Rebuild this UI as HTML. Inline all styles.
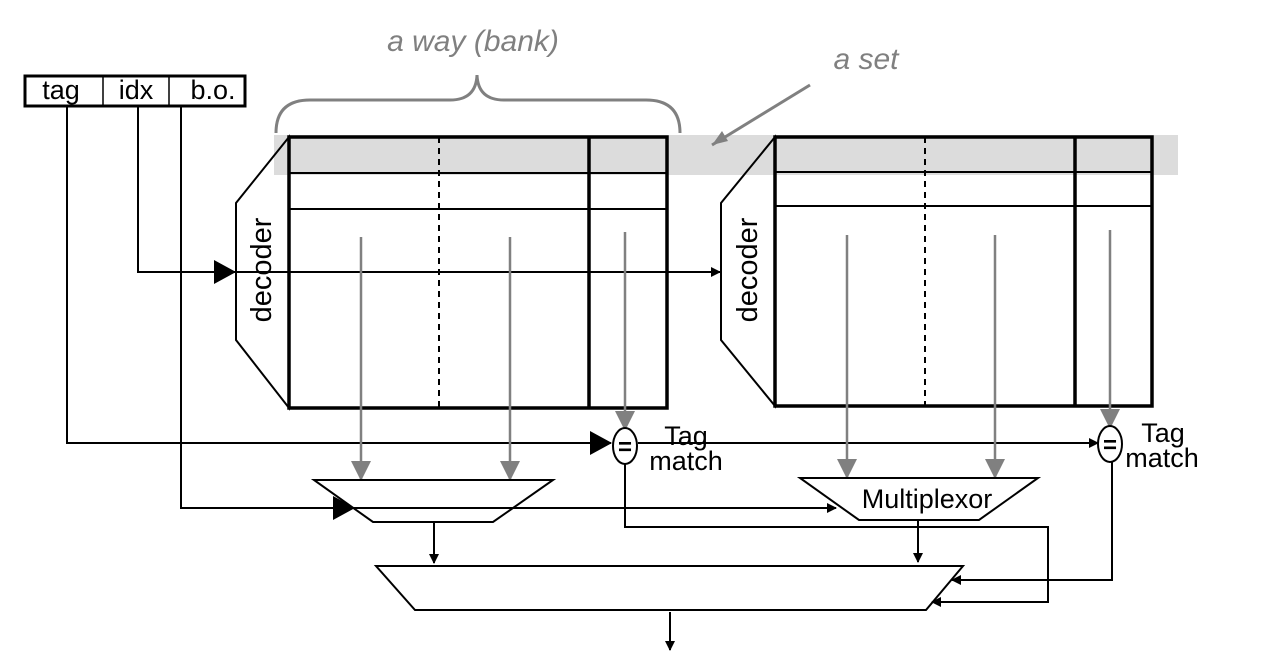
<!DOCTYPE html>
<html><head><meta charset="utf-8"><style>
html,body{margin:0;padding:0;background:#fff;}
svg{display:block;font-family:"Liberation Sans",sans-serif;}
</style></head><body>
<svg width="1263" height="660" viewBox="0 0 1263 660">
<defs>
<marker id="ab" markerWidth="10" markerHeight="10" refX="9" refY="5" orient="auto" markerUnits="userSpaceOnUse"><path d="M0,0 L10,5 L0,10 z" fill="#000"/></marker>
<marker id="ag" markerWidth="20" markerHeight="20" refX="18" refY="10" orient="auto" markerUnits="userSpaceOnUse"><path d="M0,0 L20,10 L0,20 z" fill="#808080"/></marker>
</defs>
<rect x="274" y="135" width="904" height="40" fill="#dcdcdc"/>
<text x="473" y="51" font-size="30" font-style="italic" fill="#808080" text-anchor="middle">a way (bank)</text>
<path d="M276,133 Q276,100 310,100 L450,100 Q476,100 477,75 Q478,100 504,100 L646,100 Q680,100 680,133" fill="none" stroke="#808080" stroke-width="3"/>
<text x="866" y="69" font-size="30" font-style="italic" fill="#808080" text-anchor="middle">a set</text>
<line x1="810" y1="85" x2="712" y2="145" stroke="#808080" stroke-width="3"/>
<path d="M712,145 L722,131 L728,141 z" fill="#808080"/>
<g>
<rect x="25" y="76" width="220" height="30" fill="#fff" stroke="#000" stroke-width="3"/>
<line x1="103" y1="76" x2="103" y2="106" stroke="#000" stroke-width="1.5"/>
<line x1="169" y1="76" x2="169" y2="106" stroke="#000" stroke-width="1.5"/>
<text x="61" y="99" font-size="27" text-anchor="middle">tag</text>
<text x="136" y="99" font-size="27" text-anchor="middle">idx</text>
<text x="213" y="99" font-size="27" text-anchor="middle">b.o.</text>
</g>
<g fill="none" stroke="#000" stroke-width="2">
<path d="M67,106 L67,443 L611,443"/>
<path d="M138,106 L138,272 L720,272" marker-end="url(#ab)"/>
<path d="M181,106 L181,508 L836,508" marker-end="url(#ab)"/>
<path d="M638,443 L1098,443" marker-end="url(#ab)"/>
</g>
<path d="M214,260 L236,272 L214,284 z" fill="#000"/>
<path d="M333,496 L355,508 L333,520 z" fill="#000"/>
<path d="M590,431 L612,443 L590,455 z" fill="#000"/>
<g>
<polygon points="289,137 236,203 236,340 289,408" fill="none" stroke="#000" stroke-width="2"/>
<text transform="translate(271,270) rotate(-90)" font-size="29" text-anchor="middle">decoder</text>
<rect x="289" y="137" width="378" height="271" fill="none" stroke="#000" stroke-width="3.5"/>
<line x1="289" y1="173" x2="667" y2="173" stroke="#000" stroke-width="2"/>
<line x1="289" y1="209" x2="667" y2="209" stroke="#000" stroke-width="2"/>
<line x1="589" y1="137" x2="589" y2="408" stroke="#000" stroke-width="3.5"/>
<line x1="439" y1="137" x2="439" y2="408" stroke="#000" stroke-width="2" stroke-dasharray="6,5"/>
</g>
<g>
<polygon points="775,137 721,203 721,340 775,406" fill="none" stroke="#000" stroke-width="2"/>
<text transform="translate(757,270) rotate(-90)" font-size="29" text-anchor="middle">decoder</text>
<rect x="775" y="137" width="377" height="269" fill="none" stroke="#000" stroke-width="3.5"/>
<line x1="775" y1="172" x2="1152" y2="172" stroke="#000" stroke-width="2"/>
<line x1="775" y1="206" x2="1152" y2="206" stroke="#000" stroke-width="2"/>
<line x1="1075" y1="137" x2="1075" y2="406" stroke="#000" stroke-width="3.5"/>
<line x1="925" y1="137" x2="925" y2="406" stroke="#000" stroke-width="2" stroke-dasharray="6,5"/>
</g>
<g stroke="#808080" stroke-width="2.5" fill="none">
<line x1="361" y1="237" x2="361" y2="479" marker-end="url(#ag)"/>
<line x1="510" y1="237" x2="510" y2="479" marker-end="url(#ag)"/>
<line x1="625" y1="232" x2="625" y2="429" marker-end="url(#ag)"/>
<line x1="847" y1="235" x2="847" y2="477" marker-end="url(#ag)"/>
<line x1="995" y1="235" x2="995" y2="477" marker-end="url(#ag)"/>
<line x1="1110" y1="230" x2="1110" y2="427" marker-end="url(#ag)"/>
</g>
<g>
<ellipse cx="625" cy="446" rx="12" ry="18" fill="#fff" stroke="#000" stroke-width="2"/>
<text x="625" y="455" font-size="24" font-weight="bold" text-anchor="middle">=</text>
<text x="686" y="445" font-size="27" text-anchor="middle">Tag</text>
<text x="686" y="470" font-size="27" text-anchor="middle">match</text>
</g>
<g>
<ellipse cx="1110" cy="444" rx="12" ry="18" fill="#fff" stroke="#000" stroke-width="2"/>
<text x="1110" y="453" font-size="24" font-weight="bold" text-anchor="middle">=</text>
<text x="1163" y="442" font-size="27" text-anchor="middle">Tag</text>
<text x="1162" y="467" font-size="27" text-anchor="middle">match</text>
</g>
<polygon points="314,480 553,480 493,522 373,522" fill="none" stroke="#000" stroke-width="2"/>
<polygon points="800,478 1038,478 979,520 859,520" fill="#fff" stroke="#000" stroke-width="2"/>
<text x="927" y="508" font-size="27" text-anchor="middle">Multiplexor</text>
<polygon points="376,566 963,566 926,610 415,610" fill="none" stroke="#000" stroke-width="2"/>
<g fill="none" stroke="#000" stroke-width="2">
<line x1="434" y1="522" x2="434" y2="563" marker-end="url(#ab)"/>
<line x1="918" y1="520" x2="918" y2="562" marker-end="url(#ab)"/>
<path d="M625,464 L625,527 L1048,527 L1048,602 L932,602" marker-end="url(#ab)"/>
<path d="M1112,462 L1112,580 L952,580" marker-end="url(#ab)"/>
<line x1="670" y1="612" x2="670" y2="650" marker-end="url(#ab)"/>
</g>
</svg>
</body></html>
